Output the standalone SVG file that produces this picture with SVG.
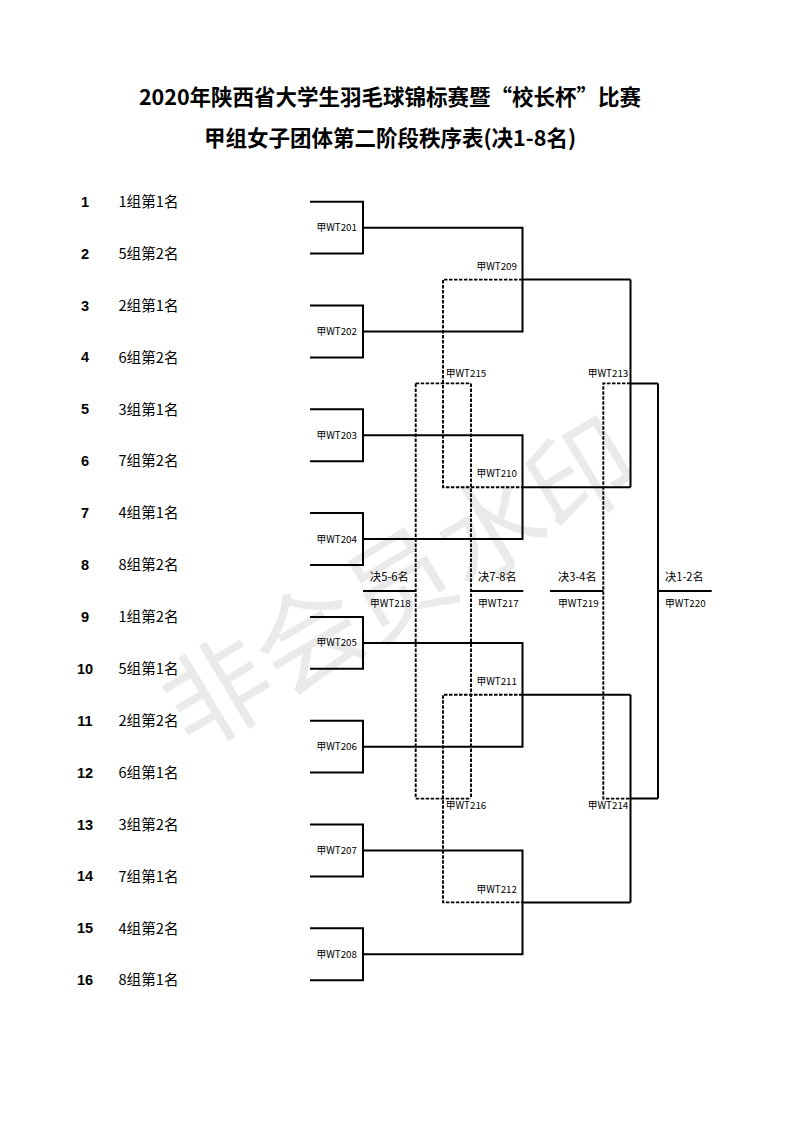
<svg xmlns="http://www.w3.org/2000/svg" width="793" height="1122" viewBox="0 0 793 1122">
<style>
.title{font-family:"Noto Sans CJK SC","Liberation Sans",sans-serif;font-weight:700;font-size:21.5px;fill:#000;text-anchor:middle}
.num{font-family:"Liberation Sans","Noto Sans CJK SC",sans-serif;font-weight:700;font-size:14.5px;fill:#000;text-anchor:middle}
.team{font-family:"Noto Sans CJK SC",sans-serif;font-size:14.6px;fill:#000}
.ml{font-family:"Noto Sans CJK SC",sans-serif;font-size:9.8px;fill:#000}
.end{text-anchor:end}
.pl{font-family:"Noto Sans CJK SC",sans-serif;font-size:11.2px;fill:#000}
.wm{font-family:"Noto Sans CJK SC",sans-serif;font-size:106px;fill:#eaeaea;text-anchor:middle}
.s{fill:none;stroke:#000;stroke-width:2}
.d{fill:none;stroke:#000;stroke-width:1.9;stroke-dasharray:3.5 1.5}
</style>
<rect width="793" height="1122" fill="#fff"/>
<text class="wm" x="400" y="622" transform="rotate(-31 400 585)">非会员水印</text>
<g id="title">
<text class="title" x="390" y="104.5">2020年陕西省大学生羽毛球锦标赛暨“校长杯”比赛</text>
<text class="title" x="390" y="146.3">甲组女子团体第二阶段秩序表(决1-8名)</text>
</g>
<g id="connectors">
<g id="dashed">
<path class="d" d="M522.5,279.6 H443 V487.2 H522.5"/>
<path class="d" d="M522.5,694.8 H443 V902.4 H522.5"/>
<path class="d" d="M415.7,383.4 H471 M415.7,798.6 H471"/>
<path class="d" d="M415.7,383.4 V798.6"/>
<path class="d" d="M471,383.4 V798.6"/>
<path class="d" d="M630.5,383.4 H603.3 V798.6 H630.5"/>
</g>
<g id="solid">
<path class="s" d="M310,201.7 H363 V253.6 H310"/>
<path class="s" d="M310,305.5 H363 V357.4 H310"/>
<path class="s" d="M310,409.3 H363 V461.2 H310"/>
<path class="s" d="M310,513.1 H363 V565 H310"/>
<path class="s" d="M310,616.9 H363 V668.8 H310"/>
<path class="s" d="M310,720.7 H363 V772.6 H310"/>
<path class="s" d="M310,824.5 H363 V876.4 H310"/>
<path class="s" d="M310,928.3 H363 V980.2 H310"/>
<path class="s" d="M363,227.7 H522.5 V331.5 H363 M522.5,279.6 H630.5"/>
<path class="s" d="M363,435.3 H522.5 V539.1 H363 M522.5,487.2 H630.5"/>
<path class="s" d="M363,642.9 H522.5 V746.7 H363 M522.5,694.8 H630.5"/>
<path class="s" d="M363,850.5 H522.5 V954.3 H363 M522.5,902.4 H630.5"/>
<path class="s" d="M630.5,279.6 V487.2 M630.5,383.4 H658"/>
<path class="s" d="M630.5,694.8 V902.4 M630.5,798.6 H658"/>
<path class="s" d="M658,383.4 V798.6 M658,591 H711.7"/>
<path class="s" d="M363,591 H415.7"/>
<path class="s" d="M471,591 H523.3"/>
<path class="s" d="M550,591 H603.3"/>
</g>
</g>
<g id="team-1"><text class="num" x="85" y="206.7">1</text><text class="team" x="118.5" y="206.9">1组第1名</text></g>
<g id="team-2"><text class="num" x="85" y="258.6">2</text><text class="team" x="118.5" y="258.8">5组第2名</text></g>
<g id="team-3"><text class="num" x="85" y="310.5">3</text><text class="team" x="118.5" y="310.7">2组第1名</text></g>
<g id="team-4"><text class="num" x="85" y="362.4">4</text><text class="team" x="118.5" y="362.6">6组第2名</text></g>
<g id="team-5"><text class="num" x="85" y="414.3">5</text><text class="team" x="118.5" y="414.5">3组第1名</text></g>
<g id="team-6"><text class="num" x="85" y="466.2">6</text><text class="team" x="118.5" y="466.4">7组第2名</text></g>
<g id="team-7"><text class="num" x="85" y="518.1">7</text><text class="team" x="118.5" y="518.3">4组第1名</text></g>
<g id="team-8"><text class="num" x="85" y="570">8</text><text class="team" x="118.5" y="570.2">8组第2名</text></g>
<g id="team-9"><text class="num" x="85" y="621.9">9</text><text class="team" x="118.5" y="622.1">1组第2名</text></g>
<g id="team-10"><text class="num" x="85" y="673.8">10</text><text class="team" x="118.5" y="674">5组第1名</text></g>
<g id="team-11"><text class="num" x="85" y="725.7">11</text><text class="team" x="118.5" y="725.9">2组第2名</text></g>
<g id="team-12"><text class="num" x="85" y="777.6">12</text><text class="team" x="118.5" y="777.8">6组第1名</text></g>
<g id="team-13"><text class="num" x="85" y="829.5">13</text><text class="team" x="118.5" y="829.7">3组第2名</text></g>
<g id="team-14"><text class="num" x="85" y="881.4">14</text><text class="team" x="118.5" y="881.6">7组第1名</text></g>
<g id="team-15"><text class="num" x="85" y="933.3">15</text><text class="team" x="118.5" y="933.5">4组第2名</text></g>
<g id="team-16"><text class="num" x="85" y="985.2">16</text><text class="team" x="118.5" y="985.4">8组第1名</text></g>
<g id="m201"><text class="ml end" x="357" y="231.2">甲WT201</text></g>
<g id="m202"><text class="ml end" x="357" y="335">甲WT202</text></g>
<g id="m203"><text class="ml end" x="357" y="438.8">甲WT203</text></g>
<g id="m204"><text class="ml end" x="357" y="542.6">甲WT204</text></g>
<g id="m205"><text class="ml end" x="357" y="646.4">甲WT205</text></g>
<g id="m206"><text class="ml end" x="357" y="750.2">甲WT206</text></g>
<g id="m207"><text class="ml end" x="357" y="854">甲WT207</text></g>
<g id="m208"><text class="ml end" x="357" y="957.8">甲WT208</text></g>
<g id="m209"><text class="ml end" x="517" y="269.8">甲WT209</text></g>
<g id="m210"><text class="ml end" x="517" y="477.4">甲WT210</text></g>
<g id="m211"><text class="ml end" x="517" y="685">甲WT211</text></g>
<g id="m212"><text class="ml end" x="517" y="892.6">甲WT212</text></g>
<g id="m213"><text class="ml end" x="628.3" y="376.9">甲WT213</text></g>
<g id="m214"><text class="ml end" x="628.3" y="809.1">甲WT214</text></g>
<g id="m215"><text class="ml" x="445.7" y="376.9">甲WT215</text></g>
<g id="m216"><text class="ml" x="445.7" y="809.1">甲WT216</text></g>
<g id="m218"><text class="pl" x="370" y="580.6">决5-6名</text><text class="ml" x="370" y="606.5">甲WT218</text></g>
<g id="m217"><text class="pl" x="478" y="580.6">决7-8名</text><text class="ml" x="478" y="606.5">甲WT217</text></g>
<g id="m219"><text class="pl" x="558" y="580.6">决3-4名</text><text class="ml" x="558" y="606.5">甲WT219</text></g>
<g id="m220"><text class="pl" x="665" y="580.6">决1-2名</text><text class="ml" x="665" y="606.5">甲WT220</text></g>
</svg>
